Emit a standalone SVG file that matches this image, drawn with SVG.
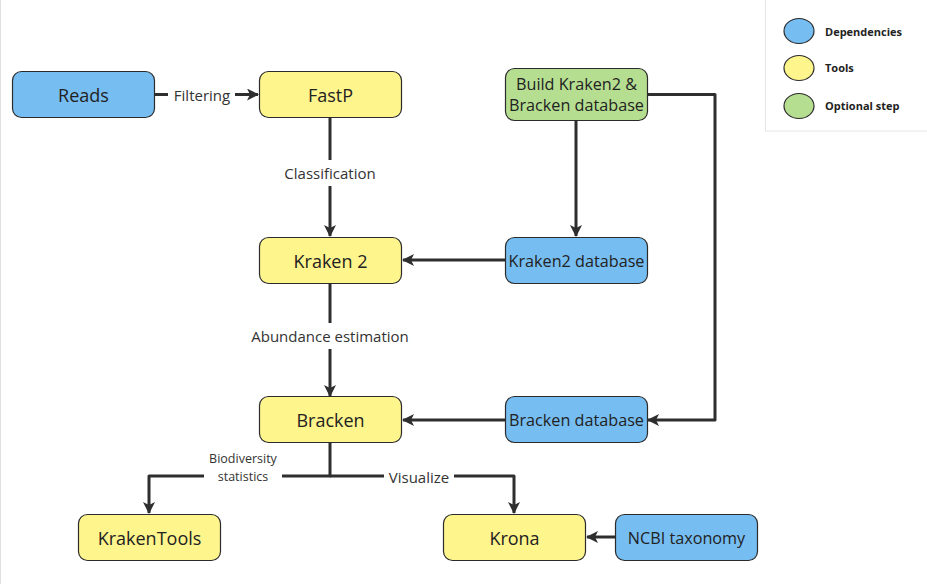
<svg xmlns="http://www.w3.org/2000/svg" width="927" height="584" viewBox="0 0 927 584">
<defs>
<style>
.n{stroke:#2b2b2b;stroke-width:1.2}
.b{fill:#76bdf1}
.y{fill:#fff58d}
.g{fill:#b6de91}
.t{font-family:"Open Sans",sans-serif;font-size:18px;fill:#222;text-anchor:middle;dominant-baseline:central}
.d{font-size:16.2px}
.l{font-family:"Open Sans",sans-serif;font-size:15px;fill:#333;text-anchor:middle;dominant-baseline:central}
.s{font-family:"Open Sans",sans-serif;font-size:12.5px;fill:#333;text-anchor:middle}
.lg{font-family:"Open Sans",sans-serif;font-size:11px;font-weight:bold;fill:#222;dominant-baseline:central}
.c{fill:none;stroke:#2e2e2e;stroke-width:3;stroke-linejoin:round}
</style>
<marker id="a" viewBox="0 0 12 12" refX="11" refY="6" markerWidth="12" markerHeight="12" markerUnits="userSpaceOnUse" orient="auto">
<path d="M0,0 L12,6 L0,12 L3,6 Z" fill="#2e2e2e"/>
</marker>
</defs>
<rect x="0" y="0" width="927" height="584" fill="#fff"/>
<line x1="0.5" y1="0" x2="0.5" y2="584" stroke="#e0e0e0" stroke-width="1"/>
<g id="legend">
<rect x="765.5" y="-2" width="170" height="133" fill="#fff" stroke="#e6e6e6"/>
<ellipse cx="799" cy="31" rx="15" ry="12.5" class="n b"/>
<ellipse cx="799" cy="68" rx="15" ry="12.5" class="n y"/>
<ellipse cx="799" cy="106" rx="15" ry="12.5" class="n g"/>
<text x="825" y="31" class="lg">Dependencies</text>
<text x="825" y="67" class="lg">Tools</text>
<text x="825" y="105" class="lg">Optional step</text>
</g>
<g id="connectors">
<path class="c" d="M155,94.5 H168"/>
<path class="c" d="M235,94.5 H258" marker-end="url(#a)"/>
<text x="202" y="94.5" class="l">Filtering</text>
<path class="c" d="M330,117 V160"/>
<path class="c" d="M330,186 V236" marker-end="url(#a)"/>
<text x="330" y="173" class="l">Classification</text>
<path class="c" d="M330,283 V323"/>
<path class="c" d="M330,349 V396" marker-end="url(#a)"/>
<text x="330" y="336" class="l">Abundance estimation</text>
<path class="c" d="M576,121 V236" marker-end="url(#a)"/>
<path class="c" d="M647,94.5 H715 V420 H648" marker-end="url(#a)"/>
<path class="c" d="M505,260 H403" marker-end="url(#a)"/>
<path class="c" d="M505,420 H403" marker-end="url(#a)"/>
<path class="c" d="M616,537 H587" marker-end="url(#a)"/>
<path class="c" d="M330,443 V476 H282"/>
<path class="c" d="M204,476 H149 V513" marker-end="url(#a)"/>
<path class="c" d="M330,476 H384"/>
<path class="c" d="M454,476 H514 V513" marker-end="url(#a)"/>
<text x="243" y="463" class="s">Biodiversity</text>
<text x="243" y="481" class="s">statistics</text>
<text x="419" y="477" class="l">Visualize</text>
</g>
<g id="reads"><rect x="12.5" y="71.5" width="142" height="46" rx="9" class="n b"/><text x="83.5" y="94.5" class="t">Reads</text></g>
<g id="fastp"><rect x="259.5" y="71.5" width="142" height="46" rx="9" class="n y"/><text x="330.5" y="94.5" class="t">FastP</text></g>
<g id="build"><rect x="505.5" y="68.5" width="142" height="52" rx="9" class="n g"/><text x="576.5" y="84" class="t d">Build Kraken2 &amp;</text><text x="576.5" y="105" class="t d">Bracken database</text></g>
<g id="kraken2"><rect x="259.5" y="237.5" width="142" height="46" rx="9" class="n y"/><text x="330.5" y="260.5" class="t">Kraken 2</text></g>
<g id="kraken2db"><rect x="505.5" y="237.5" width="142" height="46" rx="9" class="n b"/><text x="576.5" y="260.5" class="t d">Kraken2 database</text></g>
<g id="bracken"><rect x="259.5" y="396.5" width="142" height="46" rx="9" class="n y"/><text x="330.5" y="419.5" class="t">Bracken</text></g>
<g id="brackendb"><rect x="505.5" y="396.5" width="142" height="46" rx="9" class="n b"/><text x="576.5" y="419.5" class="t d">Bracken database</text></g>
<g id="krakentools"><rect x="78.5" y="514.5" width="142" height="46" rx="9" class="n y"/><text x="149.5" y="537.5" class="t">KrakenTools</text></g>
<g id="krona"><rect x="443.5" y="514.5" width="142" height="46" rx="9" class="n y"/><text x="514.5" y="537.5" class="t">Krona</text></g>
<g id="ncbi"><rect x="615.5" y="514.5" width="142" height="46" rx="9" class="n b"/><text x="686.5" y="537.5" class="t d">NCBI taxonomy</text></g>
</svg>
